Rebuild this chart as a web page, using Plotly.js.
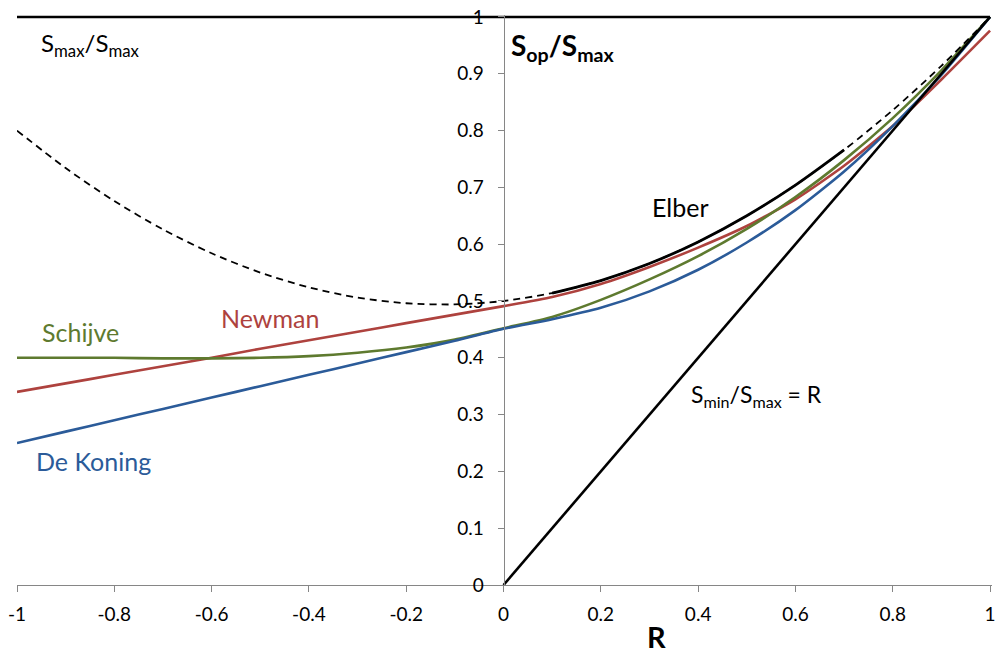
<!DOCTYPE html>
<html>
<head>
<meta charset="utf-8">
<script src="https://cdn.plot.ly/plotly-3.0.1.min.js"></script>
<style>html,body{margin:0;padding:0;background:#fff;}#chart{width:1000px;height:653px;}</style>
</head>
<body>
<div id="chart"></div>
<script>
// Stress ratio R
const R = [-1,-0.9,-0.8,-0.7,-0.6,-0.5,-0.4,-0.3,-0.2,-0.1,0,0.1,0.2,0.3,0.4,0.5,0.6,0.7,0.8,0.9,1];
// Sop/Smax curves
const newman   = [0.340,0.355,0.370,0.385,0.400,0.416,0.431,0.446,0.461,0.476,0.491,0.507,0.530,0.560,0.594,0.632,0.679,0.738,0.808,0.890,0.976];
const schijve  = [0.400,0.400,0.400,0.399,0.399,0.400,0.403,0.409,0.418,0.432,0.452,0.472,0.502,0.538,0.579,0.627,0.683,0.748,0.822,0.906,1.000];
const deKoning = [0.250,0.270,0.290,0.310,0.330,0.350,0.370,0.390,0.410,0.430,0.451,0.468,0.488,0.517,0.555,0.603,0.660,0.728,0.808,0.898,1.000];
const elberExt = [0.800,0.734,0.676,0.626,0.584,0.550,0.524,0.506,0.496,0.494,0.500,0.514,0.536,0.566,0.604,0.650,0.704,0.766,0.836,0.914,1.000];
const elberR   = [0.1,0.2,0.3,0.4,0.5,0.6,0.7];
const elber    = [0.514,0.536,0.566,0.604,0.650,0.704,0.766];
const minLineR = [0,1];
const minLine  = [0,1];
const maxLineR = [-1,1];
const maxLine  = [1,1];
const xTicks = [-1,-0.8,-0.6,-0.4,-0.2,0,0.2,0.4,0.6,0.8,1];
const yTicks = [0,0.1,0.2,0.3,0.4,0.5,0.6,0.7,0.8,0.9,1];

const FONT = 'Lato, "Open Sans", sans-serif';
const cRed = '#AE423E', cGreen = '#5E7A2F', cBlue = '#2B5B99';

const traces = [
  {x:R, y:newman, mode:'lines', line:{color:cRed, width:2.6, shape:'spline', smoothing:0.6}},
  {x:R, y:schijve, mode:'lines', line:{color:cGreen, width:2.6, shape:'spline', smoothing:0.6}},
  {x:R, y:deKoning, mode:'lines', line:{color:cBlue, width:2.6, shape:'spline', smoothing:0.6}},
  {x:R, y:elberExt, mode:'lines', line:{color:'#000', width:1.8, dash:'7px,5px', shape:'spline', smoothing:0.8}},
  {x:elberR, y:elber, mode:'lines', line:{color:'#000', width:2.8, shape:'spline', smoothing:0.8}},
  {x:minLineR, y:minLine, mode:'lines', line:{color:'#000', width:2.6}},
  {x:maxLineR, y:maxLine, mode:'lines', line:{color:'#000', width:2.6}}
];

function ann(text, x, y, color, size, xanchor){
  return {text: text, x: x, y: y, xref:'x', yref:'y', showarrow:false,
          xanchor: xanchor || 'center', yanchor:'middle',
          font:{family:FONT, size:size, color:color}};
}

const layout = {
  width:1000, height:653,
  margin:{l:17, r:8, t:15, b:68},
  paper_bgcolor:'#fff', plot_bgcolor:'#fff',
  showlegend:false, hovermode:false,
  font:{family:FONT, size:19, color:'#000'},
  xaxis:{range:[-1,1.004], tickvals:xTicks, ticktext:xTicks.map(String),
         showgrid:false, zeroline:false, showline:true, linecolor:'#868686', linewidth:1,
         ticks:'outside', ticklen:6, tickcolor:'#868686', tickwidth:1,
         tickfont:{family:FONT, size:19, color:'#000'}, ticklabelstandoff:6},
  yaxis:{range:[0,1.0035], tickvals:yTicks, ticktext:yTicks.map(String),
         anchor:'free', position:1/2.004,
         showgrid:false, zeroline:false, showline:true, linecolor:'#868686', linewidth:1,
         ticks:'outside', ticklen:6, tickcolor:'#868686', tickwidth:1,
         tickfont:{family:FONT, size:19, color:'#000'}, ticklabelstandoff:10},
  annotations:[
    ann('S<sub>max</sub>/S<sub>max</sub>', -0.955, 0.952, '#000', 24, 'left'),
    ann('<b>S<sub>op</sub>/S<sub>max</sub></b>', 0.012, 0.948, '#000', 28, 'left'),
    ann('Elber', 0.363, 0.666, '#000', 25),
    ann('Newman', -0.480, 0.470, cRed, 25),
    ann('Schijve', -0.870, 0.445, cGreen, 25),
    ann('De Koning', -0.842, 0.218, cBlue, 25),
    ann('S<sub>min</sub>/S<sub>max</sub> = R', 0.519, 0.334, '#000', 23),
    {text:'<b>R</b>', x:0.656, y:-0.0905, xref:'paper', yref:'paper', showarrow:false,
     xanchor:'center', yanchor:'middle', font:{family:FONT, size:29, color:'#000'}}
  ]
};

Plotly.newPlot('chart', traces, layout, {staticPlot:true, displayModeBar:false});
</script>
</body>
</html>
